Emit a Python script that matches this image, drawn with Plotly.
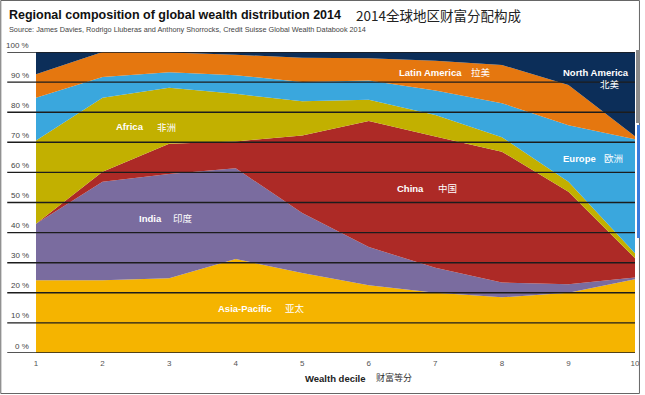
import plotly.graph_objects as go

# ---------------- data (share of each wealth decile, %) ----------------
deciles = [1, 2, 3, 4, 5, 6, 7, 8, 9, 10]
asia_pacific  = [24.2, 24.2, 24.8, 31.2, 26.6, 22.5, 20.0, 18.5, 20.0, 24.5]
india         = [18.7, 32.7, 34.7, 30.2, 19.9, 12.7,  8.3,  4.9,  2.8,  0.6]
china         = [ 0.0,  3.3, 10.0,  8.9, 25.8, 41.9, 43.6, 43.5, 30.8,  6.4]
africa        = [27.7, 24.6, 18.6, 15.8, 11.3,  7.0,  7.2,  4.8,  3.3,  1.6]
europe        = [14.2,  6.9,  5.2,  6.2,  6.4,  6.4,  8.1, 11.3, 18.8, 37.9]
latin_america = [ 7.8,  8.3,  6.5,  6.8,  8.1,  7.4,  9.9, 12.7, 13.3,  1.0]
north_america = [ 7.4,  0.0,  0.2,  0.9,  1.9,  2.1,  2.9,  4.3, 11.0, 28.0]

series = [
    ("Asia-Pacific", asia_pacific, "#F5B400"),
    ("India", india, "#7A6C9F"),
    ("China", china, "#AD2A26"),
    ("Africa", africa, "#C2B000"),
    ("Europe", europe, "#3AA7DD"),
    ("Latin America", latin_america, "#E5770F"),
    ("North America", north_america, "#0C2E59"),
]
y_ticks = [0, 10, 20, 30, 40, 50, 60, 70, 80, 90, 100]

# ---------------- geometry helpers ----------------
W, H = 645, 395
L, R, T, B = 36, 5, 52, 42
PW, PH = W - L - R, H - T - B


def px_x(px):
    return (px - L) / PW


def px_y(py):
    return (H - B - py) / PH


fig = go.Figure()
for name, vals, col in series:
    fig.add_trace(go.Scatter(
        x=deciles, y=vals, name=name, mode="lines",
        stackgroup="one", line=dict(width=0, color=col),
        fillcolor=col, hoverinfo="x+y+name",
    ))

shapes = []
annotations = []

# horizontal grid lines drawn over the areas
for v in y_ticks:
    shapes.append(dict(type="line", xref="paper", yref="y",
                       x0=px_x(7), x1=1.0, y0=v, y1=v,
                       line=dict(color="#1c1c1c", width=1.4), layer="above"))
    annotations.append(dict(xref="paper", yref="y", x=px_x(31), y=v,
                            yshift=7, xanchor="right", yanchor="middle",
                            text=f"{v} %", showarrow=False,
                            font=dict(family="Liberation Sans", size=8, color="#444444")))

# outer frame and screenshot side bars
shapes.append(dict(type="rect", xref="paper", yref="paper",
                   x0=px_x(0.5), x1=px_x(644.5), y0=px_y(0.5), y1=px_y(393.5),
                   line=dict(color="#666666", width=1), layer="above"))
shapes.append(dict(type="rect", xref="paper", yref="paper",
                   x0=px_x(641), x1=px_x(645), y0=px_y(123), y1=px_y(50),
                   line=dict(width=0), fillcolor="#8a8a8a", layer="above"))
shapes.append(dict(type="rect", xref="paper", yref="paper",
                   x0=px_x(642), x1=px_x(645), y0=px_y(238), y1=px_y(125),
                   line=dict(width=0), fillcolor="#3a7bdc", layer="above"))

# titles
annotations.append(dict(xref="paper", yref="paper", x=px_x(7), y=px_y(15),
                        xanchor="left", yanchor="middle", showarrow=False,
                        text="<b>Regional composition of global wealth distribution 2014</b>",
                        font=dict(family="Liberation Sans", size=12.5, color="#111111")))
annotations.append(dict(xref="paper", yref="paper", x=px_x(357), y=px_y(15),
                        xanchor="left", yanchor="middle", showarrow=False,
                        text="2014全球地区财富分配构成",
                        font=dict(family="Noto Sans CJK SC", size=13.5, color="#222222")))
annotations.append(dict(xref="paper", yref="paper", x=px_x(7), y=px_y(30),
                        xanchor="left", yanchor="middle", showarrow=False,
                        text="Source: James Davies, Rodrigo Lluberas and Anthony Shorrocks, Credit Suisse Global Wealth Databook 2014",
                        font=dict(family="Liberation Sans", size=7.3, color="#444444")))

# axis title
annotations.append(dict(xref="paper", yref="paper", x=px_x(305), y=px_y(378),
                        xanchor="left", yanchor="middle", showarrow=False,
                        text="<b>Wealth decile</b>",
                        font=dict(family="Liberation Sans", size=9.5, color="#222222")))
annotations.append(dict(xref="paper", yref="paper", x=px_x(377), y=px_y(377),
                        xanchor="left", yanchor="middle", showarrow=False,
                        text="财富等分",
                        font=dict(family="Noto Sans CJK SC", size=9, color="#333333")))

# in-chart region labels: (english, chinese, en_x, zh_x, y_en, y_zh)
labels = [
    ("Africa", "非洲", 115, 156, 127, 127),
    ("India", "印度", 138, 172, 218, 218),
    ("Asia-Pacific", "亚太", 217, 285, 308, 308),
    ("China", "中国", 398, 439, 188, 188),
    ("Latin America", "拉美", 400, 473, 72, 72),
    ("North America", "北美", 565, 603, 72, 84),
    ("Europe", "欧洲", 565, 607, 158, 158),
]
for en, zh, ex, zx, ey, zy in labels:
    annotations.append(dict(xref="paper", yref="paper", x=px_x(ex), y=px_y(ey),
                            xanchor="left", yanchor="middle", showarrow=False,
                            text=f"<b>{en}</b>",
                            font=dict(family="Liberation Sans", size=9.5, color="#ffffff")))
    annotations.append(dict(xref="paper", yref="paper", x=px_x(zx), y=px_y(zy),
                            xanchor="left", yanchor="middle", showarrow=False,
                            text=zh,
                            font=dict(family="Noto Sans CJK SC", size=9.5, color="#ffffff")))

fig.update_layout(
    width=W, height=H,
    margin=dict(l=L, r=R, t=T, b=B, pad=0),
    paper_bgcolor="#ffffff", plot_bgcolor="#ffffff",
    showlegend=False,
    shapes=shapes, annotations=annotations,
    xaxis=dict(range=[1, 10], tickmode="array", tickvals=deciles,
               ticktext=[str(d) for d in deciles], showgrid=False, zeroline=False,
               showline=False, ticks="", ticklabelstandoff=4,
               tickfont=dict(family="Liberation Sans", size=8, color="#555555"),
               fixedrange=True),
    yaxis=dict(range=[0, 100], showgrid=False, zeroline=False, showline=False,
               showticklabels=False, ticks="", fixedrange=True),
)

fig.write_html("out.html",
               config={"displayModeBar": False},
               post_script="document.body.style.margin='0';document.body.style.overflow='hidden';")
